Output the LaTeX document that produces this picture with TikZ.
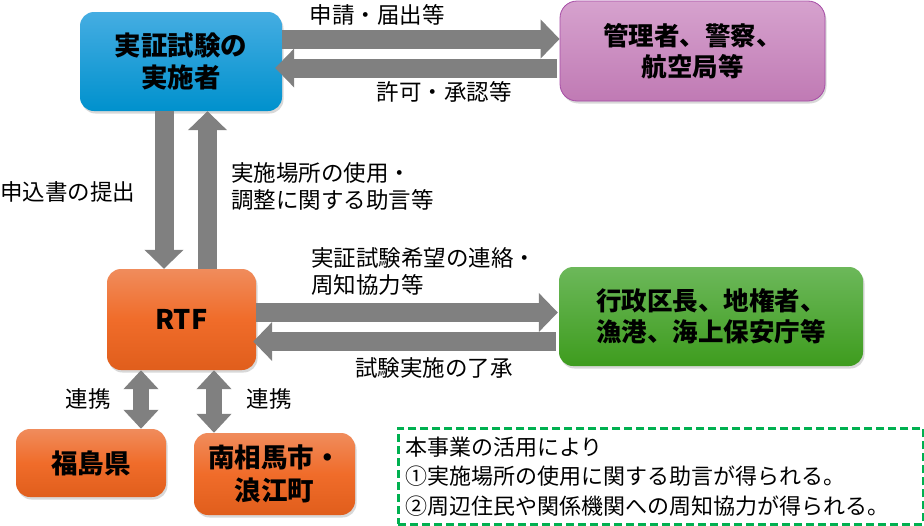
\documentclass[tikz,border=0pt]{standalone}
\usepackage{fontspec}
\setmainfont{Noto Sans CJK JP}
\usetikzlibrary{arrows.meta,shadows}
\definecolor{bluetop}{HTML}{45ADE2}
\definecolor{bluebot}{HTML}{0091CD}
\definecolor{purptop}{HTML}{D6A2CE}
\definecolor{purpbot}{HTML}{C07AB4}
\definecolor{purpline}{HTML}{A64CA6}
\definecolor{orgtop}{HTML}{F08C5C}
\definecolor{orgmid}{HTML}{F06C2A}
\definecolor{orgbot}{HTML}{E05E1C}
\definecolor{grntop}{HTML}{6CB85A}
\definecolor{grnbot}{HTML}{3E9C1E}
\definecolor{arrgray}{HTML}{808080}
\definecolor{dashgreen}{HTML}{00B050}
\tikzset{
  boxbase/.style={rounded corners=14pt, inner sep=0pt, align=center,
    font=\fontsize{25.5}{31}\selectfont\bfseries,
    drop shadow={shadow xshift=1.5pt,shadow yshift=-2.5pt,opacity=0.3}},
  bluebox/.style={boxbase, top color=bluetop, bottom color=bluebot},
  purpbox/.style={boxbase, top color=purptop, bottom color=purpbot, draw=purpline, line width=0.8pt, rounded corners=17pt},
  orgbox/.style={boxbase, top color=orgtop, bottom color=orgbot, middle color=orgmid},
  grnbox/.style={boxbase, top color=grntop, bottom color=grnbot},
  blk/.style={draw=arrgray, line width=19pt, -{Triangle[width=38pt,length=19pt]}},
  dblk/.style={draw=arrgray, line width=16pt, {Triangle[width=34pt,length=19pt]}-{Triangle[width=34pt,length=19pt]}},
  lbl/.style={font=\fontsize{22.5}{27}\selectfont, inner sep=0pt, align=left},
  notebox/.style={draw=dashgreen, line width=2.5pt, dash pattern=on 8pt off 4pt,
    font=\fontsize{22}{29.5}\selectfont, align=left, inner xsep=7pt, inner ysep=0pt}
}
\begin{document}
\begin{tikzpicture}[x=1pt,y=-1pt]
\useasboundingbox[fill=white] (0,0) rectangle (924,525);

% boxes
\node[bluebox, minimum width=202pt, minimum height=99pt, font=\fontsize{26.5}{32}\selectfont\bfseries] (jisshi) at (181,61.5) {実証試験の\\実施者};
\node[purpbox, minimum width=265pt, minimum height=100pt] (kanri) at (692.5,51) {管理者、警察、\\航空局等};
\node[orgbox, minimum width=149pt, minimum height=101pt, font=\fontsize{27}{31}\selectfont\bfseries] (rtf) at (181.5,319.5) {RTF};
\node[grnbox, minimum width=304pt, minimum height=99pt] (gyosei) at (711,316.5) {行政区長、地権者、\\漁港、海上保安庁等};
\node[orgbox, minimum width=150pt, minimum height=68pt, font=\fontsize{26.5}{31}\selectfont\bfseries] (fuku) at (91,463) {福島県};
\node[orgbox, minimum width=161pt, minimum height=82pt, font=\fontsize{26.5}{33}\selectfont\bfseries] (minami) at (274.5,474) {南相馬市・\\浪江町};

% arrows top
\draw[blk] ([yshift=22.5pt]jisshi.east) -- ([yshift=22.5pt]jisshi.east -| kanri.west);
\draw[blk] ([yshift=-17pt,xshift=-3pt]kanri.west) -- ([yshift=-17pt,xshift=-7pt]kanri.west -| jisshi.east);
% vertical arrows
\draw[blk] ([xshift=-17pt]jisshi.south) -- ([xshift=-17pt]jisshi.south |- rtf.north);
\draw[blk] ([xshift=26pt]rtf.north) -- ([xshift=26pt]rtf.north |- jisshi.south);
% middle arrows
\draw[blk] ([yshift=7pt]rtf.east) -- ([yshift=7pt,xshift=-1pt]rtf.east -| gyosei.west);
\draw[blk] ([yshift=-25pt,xshift=-3pt]gyosei.west) -- ([yshift=-25pt,xshift=-3pt]gyosei.west -| rtf.east);
% double arrows
\draw[dblk] ([xshift=-40.5pt]rtf.south) -- ([xshift=-40.5pt]rtf.south |- fuku.north);
\draw[dblk] ([xshift=32.5pt]rtf.south) -- ([xshift=32.5pt]rtf.south |- minami.north);

% labels
\node[lbl] (l1) at (377,15) {申請・届出等};
\node[lbl] (l2) at (444,92) {許可・承認等};
\node[lbl] (l3) at (68,192) {申込書の提出};
\node[lbl, anchor=west] (l4) at (231,186.5) {実施場所の使用・\\調整に関する助言等};
\node[lbl, anchor=west] (l5) at (311,271.5) {実証試験希望の連絡・\\周知協力等};
\node[lbl] (l6) at (434,368) {試験実施の了承};
\node[lbl] (l7) at (88,399) {連携};
\node[lbl] (l8) at (269,399) {連携};

% note
\node[notebox, anchor=north west, minimum width=525pt, minimum height=96pt, text width=511pt] (note) at (397,427)
  {本事業の活用により\\①実施場所の使用に関する助言が得られる。\\②周辺住民や関係機関への周知協力が得られる。};
\end{tikzpicture}
\end{document}
